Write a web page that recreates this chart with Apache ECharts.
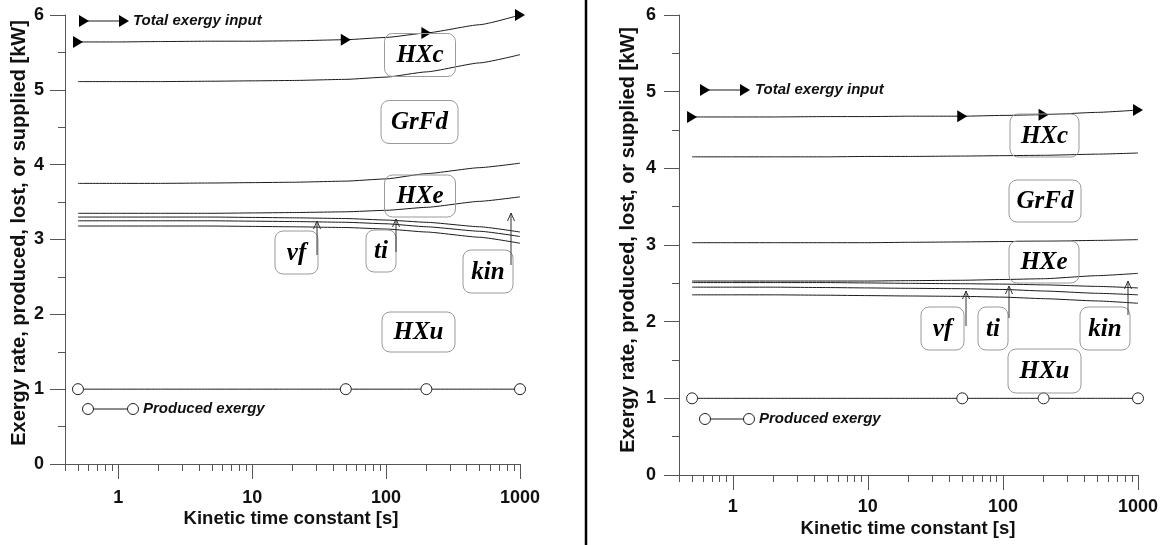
<!DOCTYPE html>
<html>
<head>
<meta charset="utf-8">
<script src="https://cdn.jsdelivr.net/npm/echarts@6/dist/echarts.min.js"></script>
<style>
html,body{margin:0;padding:0;background:#fff;}
#chart{width:1166px;height:545px;}
</style>
</head>
<body>
<div id="chart"></div>
<script>
// ---------- data ----------
const tau = [0.5, 1, 2, 5, 10, 20, 50, 100, 200, 500, 1000];
const markerTau = [0.5, 50, 200, 1000];
const majorTicks = [1, 10, 100, 1000];
const minorTicks = [0.4, 0.5, 0.6, 0.7, 0.8, 0.9, 2, 3, 4, 5, 6, 7, 8, 9,
  20, 30, 40, 50, 60, 70, 80, 90, 200, 300, 400, 500, 600, 700, 800, 900];

// left panel
const totalL   = [5.64, 5.64, 5.645, 5.65, 5.65, 5.655, 5.67, 5.70, 5.76, 5.87, 6.00];
const hxcL     = [5.11, 5.11, 5.11, 5.115, 5.12, 5.125, 5.14, 5.17, 5.24, 5.36, 5.47];
const hxeTopL  = [3.75, 3.75, 3.75, 3.755, 3.76, 3.765, 3.78, 3.81, 3.88, 3.96, 4.02];
const hxeBotL  = [3.35, 3.35, 3.35, 3.35, 3.355, 3.36, 3.37, 3.39, 3.43, 3.51, 3.57];
const vfL      = [3.30, 3.30, 3.30, 3.30, 3.295, 3.29, 3.28, 3.26, 3.23, 3.17, 3.10];
const tiL      = [3.25, 3.25, 3.25, 3.25, 3.245, 3.24, 3.23, 3.21, 3.17, 3.11, 3.04];
const kinL     = [3.18, 3.18, 3.18, 3.18, 3.175, 3.17, 3.16, 3.14, 3.10, 3.03, 2.95];
const prodL    = [1.0, 1.0, 1.0, 1.0, 1.0, 1.0, 1.0, 1.0, 1.0, 1.0, 1.0];

// right panel
const totalR   = [4.67, 4.67, 4.67, 4.675, 4.675, 4.68, 4.68, 4.69, 4.70, 4.73, 4.76];
const hxcR     = [4.15, 4.15, 4.15, 4.15, 4.155, 4.155, 4.16, 4.165, 4.17, 4.185, 4.20];
const hxeTopR  = [3.03, 3.03, 3.03, 3.03, 3.03, 3.035, 3.04, 3.045, 3.05, 3.06, 3.07];
const hxeBotR  = [2.53, 2.53, 2.53, 2.53, 2.53, 2.535, 2.54, 2.55, 2.56, 2.60, 2.63];
const vfR      = [2.51, 2.51, 2.51, 2.51, 2.505, 2.50, 2.495, 2.49, 2.48, 2.46, 2.44];
const tiR      = [2.45, 2.45, 2.45, 2.445, 2.44, 2.435, 2.43, 2.42, 2.40, 2.37, 2.35];
const kinR     = [2.35, 2.35, 2.35, 2.345, 2.34, 2.335, 2.33, 2.32, 2.30, 2.27, 2.24];
const prodR    = [1.0, 1.0, 1.0, 1.0, 1.0, 1.0, 1.0, 1.0, 1.0, 1.0, 1.0];

const yTitle = 'Exergy rate, produced, lost, or supplied [kW]';
const xTitle = 'Kinetic time constant [s]';
const totalName = 'Total exergy input';
const prodName = 'Produced exergy';

// ---------- chart ----------
const LINE = '#1a1a1a';
const AXIS = '#555';
const chart = echarts.init(document.getElementById('chart'), null, {renderer: 'canvas'});

function mkSeries(panel, vals, marker) {
  const s = {
    type: 'line', xAxisIndex: panel * 2, yAxisIndex: panel,
    data: tau.map((t, i) => {
      const d = {value: [t, vals[i]]};
      if (!marker || markerTau.indexOf(t) < 0) d.symbol = 'none';
      return d;
    }),
    smooth: 0.15, smoothMonotone: 'x',
    lineStyle: {color: LINE, width: 1},
    silent: true, animation: false, z: 3,
    symbol: 'none', showSymbol: true
  };
  if (marker === 'tri') {
    s.symbol = 'triangle'; s.symbolSize = [12, 10]; s.symbolRotate = -90;
    s.itemStyle = {color: '#000'};
  } else if (marker === 'circ') {
    s.symbol = 'circle'; s.symbolSize = 11;
    s.itemStyle = {color: '#fff', borderColor: '#222', borderWidth: 1};
  }
  return s;
}

const tickFont = {color: '#111', fontFamily: 'Liberation Sans', fontWeight: 'bold', fontSize: 18};
function xAxes(grid, labelMargin) {
  return [
    {type: 'log', logBase: 10, gridIndex: grid, min: 0.4, max: 1000,
     axisLine: {show: true, lineStyle: {color: AXIS, width: 1}},
     axisTick: {show: true, customValues: majorTicks, length: 15, lineStyle: {color: AXIS}},
     axisLabel: Object.assign({show: true, customValues: majorTicks, margin: labelMargin,
       formatter: v => String(Math.round(v))}, tickFont),
     splitLine: {show: false}},
    {type: 'log', logBase: 10, gridIndex: grid, min: 0.4, max: 1000, position: 'bottom',
     axisLine: {show: false},
     axisTick: {show: true, customValues: minorTicks, length: 7, lineStyle: {color: AXIS}},
     axisLabel: {show: false},
     splitLine: {show: false}}
  ];
}
function yAxis(grid, labelMargin) {
  return {type: 'value', gridIndex: grid, min: 0, max: 6, interval: 1,
    axisLine: {show: true, lineStyle: {color: AXIS, width: 1}},
    axisTick: {show: true, length: 15, lineStyle: {color: AXIS}},
    minorTick: {show: true, splitNumber: 2, length: 7, lineStyle: {color: AXIS}},
    axisLabel: Object.assign({margin: labelMargin}, tickFont),
    splitLine: {show: false}, minorSplitLine: {show: false}};
}

// ----- annotation graphics -----
const serifFont = {fontFamily: 'Liberation Serif', fontStyle: 'italic', fontWeight: 'bold', fontSize: 25, fill: '#000'};
function box(label, cx, cy, w, h) {
  return [
    {type: 'rect', shape: {x: cx - w / 2, y: cy - h / 2, width: w, height: h, r: 8},
     style: {fill: 'none', stroke: '#9a9a9a', lineWidth: 1}, z: 5},
    {type: 'text', x: cx, y: cy + 1, style: Object.assign({text: label, align: 'center', verticalAlign: 'middle'}, serifFont), z: 6}
  ];
}
function arrow(x, y1, y2) {
  return [
    {type: 'line', shape: {x1: x, y1: y1, x2: x, y2: y2}, style: {stroke: '#333', lineWidth: 1}, z: 6},
    {type: 'polyline', shape: {points: [[x - 3.5, y2 + 8], [x, y2], [x + 3.5, y2 + 8]]}, style: {stroke: '#333', lineWidth: 1, fill: null}, z: 6}
  ];
}
function tri(cx, cy) {
  return {type: 'polygon', shape: {points: [[cx - 5, cy - 6], [cx + 5, cy], [cx - 5, cy + 6]]}, style: {fill: '#000'}, z: 6};
}
function circ(cx, cy) {
  return {type: 'circle', shape: {cx: cx, cy: cy, r: 5.5}, style: {fill: '#fff', stroke: '#222', lineWidth: 1}, z: 6};
}
const legendFont = {fontFamily: 'Liberation Sans', fontStyle: 'italic', fontWeight: 'bold', fontSize: 15, fill: '#111'};
function legendTotal(x1, x2, y, tx) {
  return [
    {type: 'line', shape: {x1: x1, y1: y, x2: x2, y2: y}, style: {stroke: LINE, lineWidth: 1}, z: 5},
    tri(x1, y), tri(x2, y),
    {type: 'text', x: tx, y: y, style: Object.assign({text: totalName, align: 'left', verticalAlign: 'middle'}, legendFont), z: 6}
  ];
}
function legendProd(x1, x2, y, tx) {
  return [
    {type: 'line', shape: {x1: x1, y1: y, x2: x2, y2: y}, style: {stroke: LINE, lineWidth: 1}, z: 5},
    circ(x1, y), circ(x2, y),
    {type: 'text', x: tx, y: y, style: Object.assign({text: prodName, align: 'left', verticalAlign: 'middle'}, legendFont), z: 6}
  ];
}
const titleFont = {fontFamily: 'Liberation Sans', fontWeight: 'bold', fill: '#111'};
function yTitleText(x, y) {
  return {type: 'text', x: x, y: y, rotation: Math.PI / 2,
    style: Object.assign({text: yTitle, align: 'center', verticalAlign: 'middle', fontSize: 20}, titleFont), z: 6};
}
function xTitleText(x, y) {
  return {type: 'text', x: x, y: y,
    style: Object.assign({text: xTitle, align: 'center', verticalAlign: 'middle', fontSize: 18.5}, titleFont), z: 6};
}

const graphics = [].concat(
  // divider
  [{type: 'line', shape: {x1: 586, y1: 0, x2: 586, y2: 545}, style: {stroke: '#000', lineWidth: 2.5}, z: 6}],
  // left panel
  box('HXc', 420, 55, 71, 43), box('GrFd', 419.5, 122, 77, 43), box('HXe', 420, 196, 71, 42),
  box('vf', 296.5, 252.5, 43, 43), box('ti', 381, 251, 30, 42), box('kin', 488, 271.5, 50, 43),
  box('HXu', 418.5, 332, 73, 40),
  arrow(317, 255, 221), arrow(396, 252, 219), arrow(511, 265, 213),
  legendTotal(84, 124, 21, 133), legendProd(88, 133, 409, 143),
  [yTitleText(19, 233), xTitleText(291, 519)],
  // right panel
  box('HXc', 1044.5, 135.5, 69, 43), box('GrFd', 1045, 201, 72, 42), box('HXe', 1044, 262, 70, 42),
  box('vf', 942.5, 328.5, 43, 43), box('ti', 993, 328.5, 30, 43), box('kin', 1105, 328.5, 50, 43),
  box('HXu', 1044.5, 371, 73, 44),
  arrow(966, 326, 291), arrow(1009, 318, 286), arrow(1128, 315, 281),
  legendTotal(705, 745, 90, 755), legendProd(705, 749, 419, 759),
  [yTitleText(628, 240), xTitleText(908, 529)]
);

const option = {
  animation: false,
  backgroundColor: '#fff',
  grid: [
    {left: 65, top: 15, width: 455, height: 449, containLabel: false},
    {left: 679, top: 15, width: 459, height: 460, containLabel: false}
  ],
  xAxis: xAxes(0, 25).concat(xAxes(1, 23)),
  yAxis: [yAxis(0, 21), yAxis(1, 23)],
  series: [
    mkSeries(0, totalL, 'tri'), mkSeries(0, hxcL), mkSeries(0, hxeTopL), mkSeries(0, hxeBotL),
    mkSeries(0, vfL), mkSeries(0, tiL), mkSeries(0, kinL), mkSeries(0, prodL, 'circ'),
    mkSeries(1, totalR, 'tri'), mkSeries(1, hxcR), mkSeries(1, hxeTopR), mkSeries(1, hxeBotR),
    mkSeries(1, vfR), mkSeries(1, tiR), mkSeries(1, kinR), mkSeries(1, prodR, 'circ')
  ],
  graphic: graphics
};
chart.setOption(option);
</script>
</body>
</html>
